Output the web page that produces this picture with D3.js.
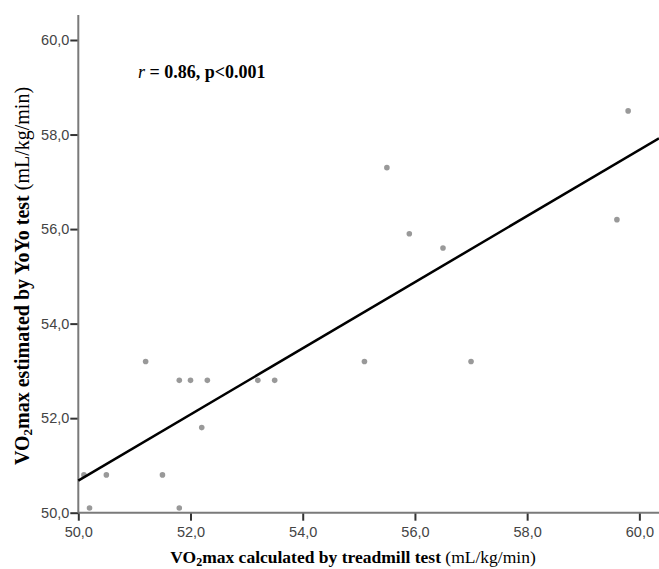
<!DOCTYPE html>
<html>
<head>
<meta charset="utf-8">
<script src="https://cdn.jsdelivr.net/npm/d3@7"></script>
<style>
  html, body { margin: 0; padding: 0; background: #fff; }
  svg { display: block; }
</style>
</head>
<body>
<svg id="chart" width="659" height="569"></svg>
<script>
// Data
const treadmill = [51.2, 51.8, 52.0, 52.3, 53.2, 53.5, 52.2, 50.5, 51.5, 50.2, 51.8, 50.1, 59.8, 55.5, 55.9, 56.5, 59.6, 55.1, 57.0];
const yoyo      = [53.2, 52.8, 52.8, 52.8, 52.8, 52.8, 51.8, 50.8, 50.8, 50.1, 50.1, 50.8, 58.5, 57.3, 55.9, 55.6, 56.2, 53.2, 53.2];
const xTicks = [50, 52, 54, 56, 58, 60];
const yTicks = [50, 52, 54, 56, 58, 60];
const fitX = [50, 60.35];
const fitY = [50.68, 57.92];
const annotation = "0.86, p<0.001";

const svg = d3.select("#chart");
const W = 659, H = 569;

const x = d3.scaleLinear().domain([50, 60.35]).range([78.3, 659]);
const y = d3.scaleLinear().domain([50, 60]).range([512.7, 40]);
const fmt = d => d.toFixed(1).replace(".", ",");

const axisColor = "#7a7a7a";

// Y axis
const yAxis = svg.append("g").attr("transform", `translate(${x(50)},0)`)
  .call(d3.axisLeft(y).tickValues(yTicks).tickFormat(fmt).tickSize(8).tickSizeOuter(0));
yAxis.select(".domain").remove();
yAxis.append("line").attr("x1", 0).attr("x2", 0).attr("y1", 15).attr("y2", y(50))
  .attr("stroke", axisColor).attr("stroke-width", 2);
yAxis.selectAll(".tick line").attr("stroke", "#333").attr("stroke-width", 2);
yAxis.selectAll(".tick text").attr("font-family", "Liberation Sans, Arial, sans-serif")
  .attr("font-size", 14.5).attr("fill", "#444").attr("x", -9);

// X axis
const xAxis = svg.append("g").attr("transform", `translate(0,${y(50)})`)
  .call(d3.axisBottom(x).tickValues(xTicks).tickFormat(fmt).tickSize(8).tickSizeOuter(0));
xAxis.select(".domain").remove();
xAxis.append("line").attr("x1", x(50)).attr("x2", W).attr("y1", 0).attr("y2", 0)
  .attr("stroke", axisColor).attr("stroke-width", 2);
xAxis.selectAll(".tick line").attr("stroke", "#333").attr("stroke-width", 2);
xAxis.selectAll(".tick text").attr("font-family", "Liberation Sans, Arial, sans-serif")
  .attr("font-size", 14.5).attr("fill", "#444").attr("y", 14);

// Points
svg.append("g").selectAll("circle")
  .data(treadmill.map((v, i) => [v, yoyo[i]]))
  .join("circle")
  .attr("cx", d => x(d[0])).attr("cy", d => y(d[1]))
  .attr("r", 2.8).attr("fill", "#999");

// Fit line
svg.append("line")
  .attr("x1", x(fitX[0])).attr("y1", y(fitY[0]))
  .attr("x2", x(fitX[1])).attr("y2", y(fitY[1]))
  .attr("stroke", "#000").attr("stroke-width", 2.5);

// Annotation
const ann = svg.append("text").attr("x", 138).attr("y", 78)
  .attr("font-family", "Liberation Serif, Times New Roman, serif").attr("font-size", 18)
  .attr("font-weight", "bold").attr("fill", "#000");
ann.append("tspan").attr("font-style", "italic").attr("font-weight", "normal").text("r");
ann.append("tspan").text(" = " + annotation);

// X title
const xt = svg.append("text").attr("x", 353).attr("y", 563).attr("text-anchor", "middle")
  .attr("font-family", "Liberation Serif, Times New Roman, serif").attr("font-size", 17.5).attr("fill", "#000");
xt.append("tspan").attr("font-weight", "bold").text("VO");
xt.append("tspan").attr("font-weight", "bold").attr("font-size", 12).attr("dy", 3).text("2");
xt.append("tspan").attr("font-weight", "bold").attr("dy", -3).text("max calculated by treadmill test ");
xt.append("tspan").text("(mL/kg/min)");

// Y title
const yt = svg.append("text").attr("transform", "translate(29,276) rotate(-90)").attr("text-anchor", "middle")
  .attr("font-family", "Liberation Serif, Times New Roman, serif").attr("font-size", 20).attr("fill", "#000");
yt.append("tspan").attr("font-weight", "bold").text("VO");
yt.append("tspan").attr("font-weight", "bold").attr("font-size", 13).attr("dy", 3).text("2");
yt.append("tspan").attr("font-weight", "bold").attr("dy", -3).text("max estimated by YoYo test ");
yt.append("tspan").text("(mL/kg/min)");
</script>
</body>
</html>
